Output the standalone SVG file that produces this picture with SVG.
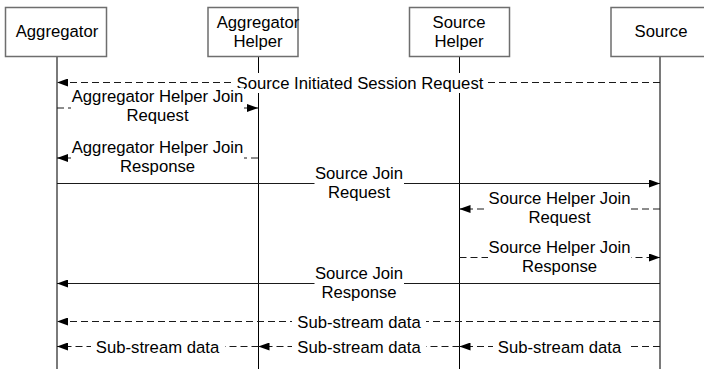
<svg xmlns="http://www.w3.org/2000/svg" width="704" height="369" viewBox="0 0 704 369">
  <style>
    text { font-family: "Liberation Sans", Arial, sans-serif; font-size: 16.7px; fill: #000; text-anchor: middle; }
    .box { fill: #fff; stroke: #6e6e6e; stroke-width: 1.5; }
    .life-main { stroke: #7a7a7a; stroke-width: 2; }
    .life-help { stroke: #000; stroke-width: 1; }
    .msg { stroke: #1a1a1a; stroke-width: 1; fill: none; }
    .dash { stroke-dasharray: 7 4; }
    .bg { fill: #fff; }
  </style>
  <defs>
    <marker id="arr" viewBox="0 0 11 8" refX="11" refY="4" markerWidth="11" markerHeight="8" markerUnits="userSpaceOnUse" orient="auto">
      <path d="M0,0 L11,4 L0,8 Z" fill="#000"/>
    </marker>
  </defs>

  <!-- lifelines -->
  <g id="lifelines">
    <line class="life-main" x1="57" y1="56" x2="57" y2="369"/>
    <line class="life-help" x1="258.5" y1="56" x2="258.5" y2="369"/>
    <line class="life-help" x1="459.5" y1="56" x2="459.5" y2="369"/>
    <line class="life-main" x1="660" y1="56" x2="660" y2="369"/>
  </g>

  <!-- participants -->
  <g id="aggregator">
    <rect class="box" x="5.5" y="7.5" width="101" height="49"/>
    <text x="57" y="37">Aggregator</text>
  </g>
  <g id="aggregator-helper">
    <rect class="box" x="208" y="7.5" width="90" height="49"/>
    <text x="258" y="28">Aggregator</text>
    <text x="258" y="47">Helper</text>
  </g>
  <g id="source-helper">
    <rect class="box" x="409.5" y="7.5" width="100" height="49"/>
    <text x="459" y="28">Source</text>
    <text x="459" y="47">Helper</text>
  </g>
  <g id="source">
    <rect class="box" x="611" y="7.5" width="100" height="49"/>
    <text x="661" y="37">Source</text>
  </g>

  <!-- messages -->
  <g id="connectors">
    <!-- Source Initiated Session Request -->
    <line class="msg dash" x1="660" y1="82.5" x2="57" y2="82.5" marker-end="url(#arr)"/>
    <rect class="bg" x="234" y="73" width="252" height="20"/>
    <text x="360" y="88.5">Source Initiated Session Request</text>

    <!-- Aggregator Helper Join Request -->
    <line class="msg dash" x1="57" y1="108" x2="258" y2="108" marker-end="url(#arr)"/>
    <rect class="bg" x="71" y="88" width="173" height="38"/>
    <text x="157.5" y="102">Aggregator Helper Join</text>
    <text x="157.5" y="121">Request</text>

    <!-- Aggregator Helper Join Response -->
    <line class="msg dash" x1="258" y1="158" x2="57" y2="158" marker-end="url(#arr)"/>
    <rect class="bg" x="71" y="138" width="173" height="38"/>
    <text x="157.5" y="153">Aggregator Helper Join</text>
    <text x="157.5" y="172">Response</text>

    <!-- Source Join Request -->
    <line class="msg" x1="57" y1="183.5" x2="660" y2="183.5" marker-end="url(#arr)"/>
    <rect class="bg" x="314.5" y="163" width="89.5" height="39"/>
    <text x="359" y="178.5">Source Join</text>
    <text x="359" y="197.5">Request</text>

    <!-- Source Helper Join Request -->
    <line class="msg dash" x1="660" y1="209" x2="459.5" y2="209" marker-end="url(#arr)"/>
    <rect class="bg" x="488" y="189" width="143" height="38"/>
    <text x="559.5" y="204">Source Helper Join</text>
    <text x="559.5" y="223">Request</text>

    <!-- Source Helper Join Response -->
    <line class="msg dash" x1="459.5" y1="257.5" x2="660" y2="257.5" marker-end="url(#arr)"/>
    <rect class="bg" x="488" y="237" width="143" height="39"/>
    <text x="559.5" y="252.5">Source Helper Join</text>
    <text x="559.5" y="272">Response</text>

    <!-- Source Join Response -->
    <line class="msg" x1="660" y1="283.5" x2="57" y2="283.5" marker-end="url(#arr)"/>
    <rect class="bg" x="314.5" y="263" width="89.5" height="39"/>
    <text x="359" y="278.5">Source Join</text>
    <text x="359" y="297.5">Response</text>

    <!-- Sub-stream data (Source to Aggregator) -->
    <line class="msg dash" x1="660" y1="321.5" x2="57" y2="321.5" marker-end="url(#arr)"/>
    <rect class="bg" x="292" y="312" width="134" height="19"/>
    <text x="359" y="327.5">Sub-stream data</text>

    <!-- Sub-stream data relayed through the helpers -->
    <line class="msg dash" x1="660" y1="346.5" x2="459.5" y2="346.5" marker-end="url(#arr)"/>
    <rect class="bg" x="493" y="337" width="134" height="19"/>
    <text x="559.5" y="352.5">Sub-stream data</text>

    <line class="msg dash" x1="459.5" y1="346.5" x2="258.5" y2="346.5" marker-end="url(#arr)"/>
    <rect class="bg" x="292" y="337" width="134" height="19"/>
    <text x="359" y="352.5">Sub-stream data</text>

    <line class="msg dash" x1="258.5" y1="346.5" x2="57" y2="346.5" marker-end="url(#arr)"/>
    <rect class="bg" x="91" y="337" width="134" height="19"/>
    <text x="157.5" y="352.5">Sub-stream data</text>
  </g>
</svg>
